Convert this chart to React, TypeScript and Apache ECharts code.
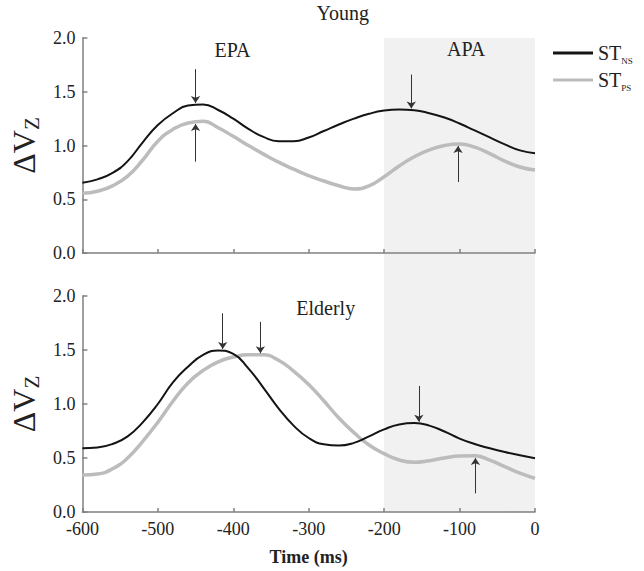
import { useEffect, useRef } from 'react';
import * as echarts from 'echarts';

// Time (ms) sampling shared by all curves
const times = [-600, -580, -560, -540, -520, -500, -480, -460, -440, -420, -400, -380, -360, -340, -320, -300, -280, -260, -240, -220, -200, -180, -160, -140, -120, -100, -80, -60, -40, -20, 0];

// Young group
const youngNS = [0.654, 0.685, 0.745, 0.855, 1.03, 1.19, 1.3, 1.372, 1.382, 1.33, 1.25, 1.155, 1.08, 1.04, 1.04, 1.075, 1.135, 1.195, 1.25, 1.295, 1.325, 1.335, 1.328, 1.3, 1.26, 1.205, 1.14, 1.075, 1.01, 0.955, 0.927];
const youngPS = [0.555, 0.575, 0.625, 0.715, 0.865, 1.04, 1.15, 1.21, 1.225, 1.165, 1.085, 1.0, 0.92, 0.845, 0.78, 0.72, 0.67, 0.625, 0.595, 0.625, 0.71, 0.81, 0.895, 0.96, 1.0, 1.014, 0.985, 0.925, 0.855, 0.8, 0.772];

// Elderly group
const elderlyNS = [0.59, 0.597, 0.63, 0.7, 0.83, 1.0, 1.2, 1.345, 1.455, 1.495, 1.465, 1.33, 1.15, 0.96, 0.8, 0.685, 0.627, 0.615, 0.64, 0.7, 0.765, 0.81, 0.823, 0.8, 0.745, 0.68, 0.63, 0.59, 0.555, 0.525, 0.497];
const elderlyPS = [0.343, 0.352, 0.4, 0.5, 0.655, 0.83, 1.025, 1.195, 1.31, 1.39, 1.435, 1.455, 1.455, 1.405, 1.305, 1.18, 1.03, 0.87, 0.735, 0.62, 0.54, 0.482, 0.46, 0.475, 0.5, 0.518, 0.52, 0.48, 0.42, 0.36, 0.312];

// Peak-marking arrows: [time, from value, to value]
const youngNSArrows = [[-450, 1.71, 1.395], [-164, 1.66, 1.345]];
const youngPSArrows = [[-450, 0.85, 1.2], [-102, 0.66, 0.995]];
const elderlyNSArrows = [[-414, 1.84, 1.51], [-154, 1.167, 0.836]];
const elderlyPSArrows = [[-364, 1.76, 1.47], [-79, 0.173, 0.5]];

// Shaded APA window
const apaStart = -200;
const apaEnd = 0;

const yTicks = { min: 0, max: 2, interval: 0.5 };

export default function App() {
  const ref = useRef<HTMLDivElement>(null);

  useEffect(() => {
    document.body.style.margin = '0';
    const chart = echarts.init(ref.current!, null, { renderer: 'svg' });
    const font = "'Liberation Serif', 'Times New Roman', serif";
    const axisColor = '#808080';
    const textColor = '#222';

    const zip = (vals: number[]) => times.map((t, i) => [t, vals[i]]);
    const arrows = (arr: number[][]) => ({
      silent: true,
      symbol: ['none', 'arrow'],
      symbolSize: 7,
      label: { show: false },
      emphasis: { disabled: true },
      lineStyle: { color: '#333', width: 1, type: 'solid' },
      data: arr.map((a) => [{ coord: [a[0], a[1]] }, { coord: [a[0], a[2]] }]),
    });

    const xBase = (gridIndex: number, showLabels: boolean) => ({
      type: 'value',
      gridIndex,
      min: -600,
      max: 0,
      interval: 100,
      axisLine: { onZero: false, lineStyle: { color: axisColor, width: 1.5 } },
      axisTick: { inside: true, length: 4, lineStyle: { color: axisColor, width: 1.5 } },
      splitLine: { show: false },
      axisLabel: { show: showLabels, fontFamily: font, fontSize: 18, color: textColor, margin: 8 },
      ...(showLabels
        ? {
            name: 'Time (ms)',
            nameLocation: 'middle',
            nameGap: 36,
            nameTextStyle: { fontFamily: font, fontSize: 18, fontWeight: 'bold', color: textColor },
          }
        : {}),
    });

    const yBase = (gridIndex: number) => ({
      type: 'value',
      gridIndex,
      ...yTicks,
      axisLine: { show: true, onZero: false, lineStyle: { color: axisColor, width: 1.5 } },
      axisTick: { show: true, inside: true, length: 5, lineStyle: { color: axisColor, width: 1.5 } },
      splitLine: { show: false },
      axisLabel: {
        fontFamily: font,
        fontSize: 18,
        color: textColor,
        margin: 7,
        formatter: (v: number) => v.toFixed(1),
      },
      name: '{a|ΔV}{b|Z}',
      nameLocation: 'middle',
      nameRotate: 90,
      nameGap: 30,
      nameTextStyle: {
        rich: {
          a: { fontFamily: font, fontSize: 32, color: textColor, lineHeight: 36 },
          b: { fontFamily: font, fontSize: 21, color: textColor, verticalAlign: 'bottom', lineHeight: 22 },
        },
      },
    });

    const lineSeries = (name: string, vals: number[], idx: number, black: boolean, arr: number[][]) => ({
      type: 'line',
      name,
      xAxisIndex: idx,
      yAxisIndex: idx,
      data: zip(vals),
      smooth: 0.5,
      symbol: 'none',
      showSymbol: false,
      lineStyle: { color: black ? '#141414' : '#bcbcbc', width: black ? 2 : 3.5 },
      itemStyle: { color: black ? '#141414' : '#bcbcbc' },
      z: black ? 4 : 3,
      markLine: arrows(arr),
    });

    chart.setOption({
      animation: false,
      backgroundColor: '#ffffff',
      textStyle: { fontFamily: font },
      grid: [
        { left: 77, top: 38, width: 458, height: 215 },
        { left: 77, top: 296, width: 458, height: 216 },
      ],
      xAxis: [xBase(0, false), xBase(1, true)],
      yAxis: [yBase(0), yBase(1)],
      legend: {
        orient: 'vertical',
        left: 553,
        top: 43,
        padding: 0,
        itemWidth: 40,
        itemHeight: 3,
        itemGap: 5,
        data: [
          { name: 'NS', icon: 'rect' },
          { name: 'PS', icon: 'rect' },
        ],
        formatter: (n: string) => `{a|ST}{b|${n}}`,
        textStyle: {
          rich: {
            a: { fontFamily: font, fontSize: 20, color: textColor, lineHeight: 24 },
            b: { fontFamily: font, fontSize: 9, color: textColor, verticalAlign: 'bottom', lineHeight: 14 },
          },
        },
      },
      series: [
        lineSeries('PS', youngPS, 0, false, youngPSArrows),
        lineSeries('NS', youngNS, 0, true, youngNSArrows),
        lineSeries('PS', elderlyPS, 1, false, elderlyPSArrows),
        lineSeries('NS', elderlyNS, 1, true, elderlyNSArrows),
      ],
    });

    const p1 = chart.convertToPixel({ gridIndex: 0 } as any, [apaStart, yTicks.max]) as number[];
    const p2 = chart.convertToPixel({ gridIndex: 1 } as any, [apaEnd, yTicks.min]) as number[];
    const tl = chart.convertToPixel({ gridIndex: 0 } as any, [-600, 2]) as number[];
    const tr = chart.convertToPixel({ gridIndex: 0 } as any, [0, 2]) as number[];
    const bl = chart.convertToPixel({ gridIndex: 1 } as any, [-600, 2]) as number[];

    const txt = (text: string, x: number, y: number) => ({
      type: 'text',
      x,
      y,
      silent: true,
      style: { text, fontFamily: font, fontSize: 20, fill: textColor, textAlign: 'center', textVerticalAlign: 'middle' },
    });

    chart.setOption({
      graphic: [
        {
          type: 'rect',
          z: -1,
          silent: true,
          shape: { x: p1[0], y: p1[1], width: p2[0] - p1[0], height: p2[1] - p1[1] },
          style: { fill: '#f1f1f1' },
        },
        txt('Young', (tl[0] + tr[0]) / 2 + 34, tl[1] - 25),
        txt('EPA', tl[0] + 150, tl[1] + 12),
        txt('APA', p1[0] + 82, tl[1] + 11),
        txt('Elderly', (bl[0] + tr[0]) / 2 + 17, bl[1] + 12),
      ],
    });

    return () => chart.dispose();
  }, []);

  return <div ref={ref} style={{ width: 644, height: 571 }} />;
}
